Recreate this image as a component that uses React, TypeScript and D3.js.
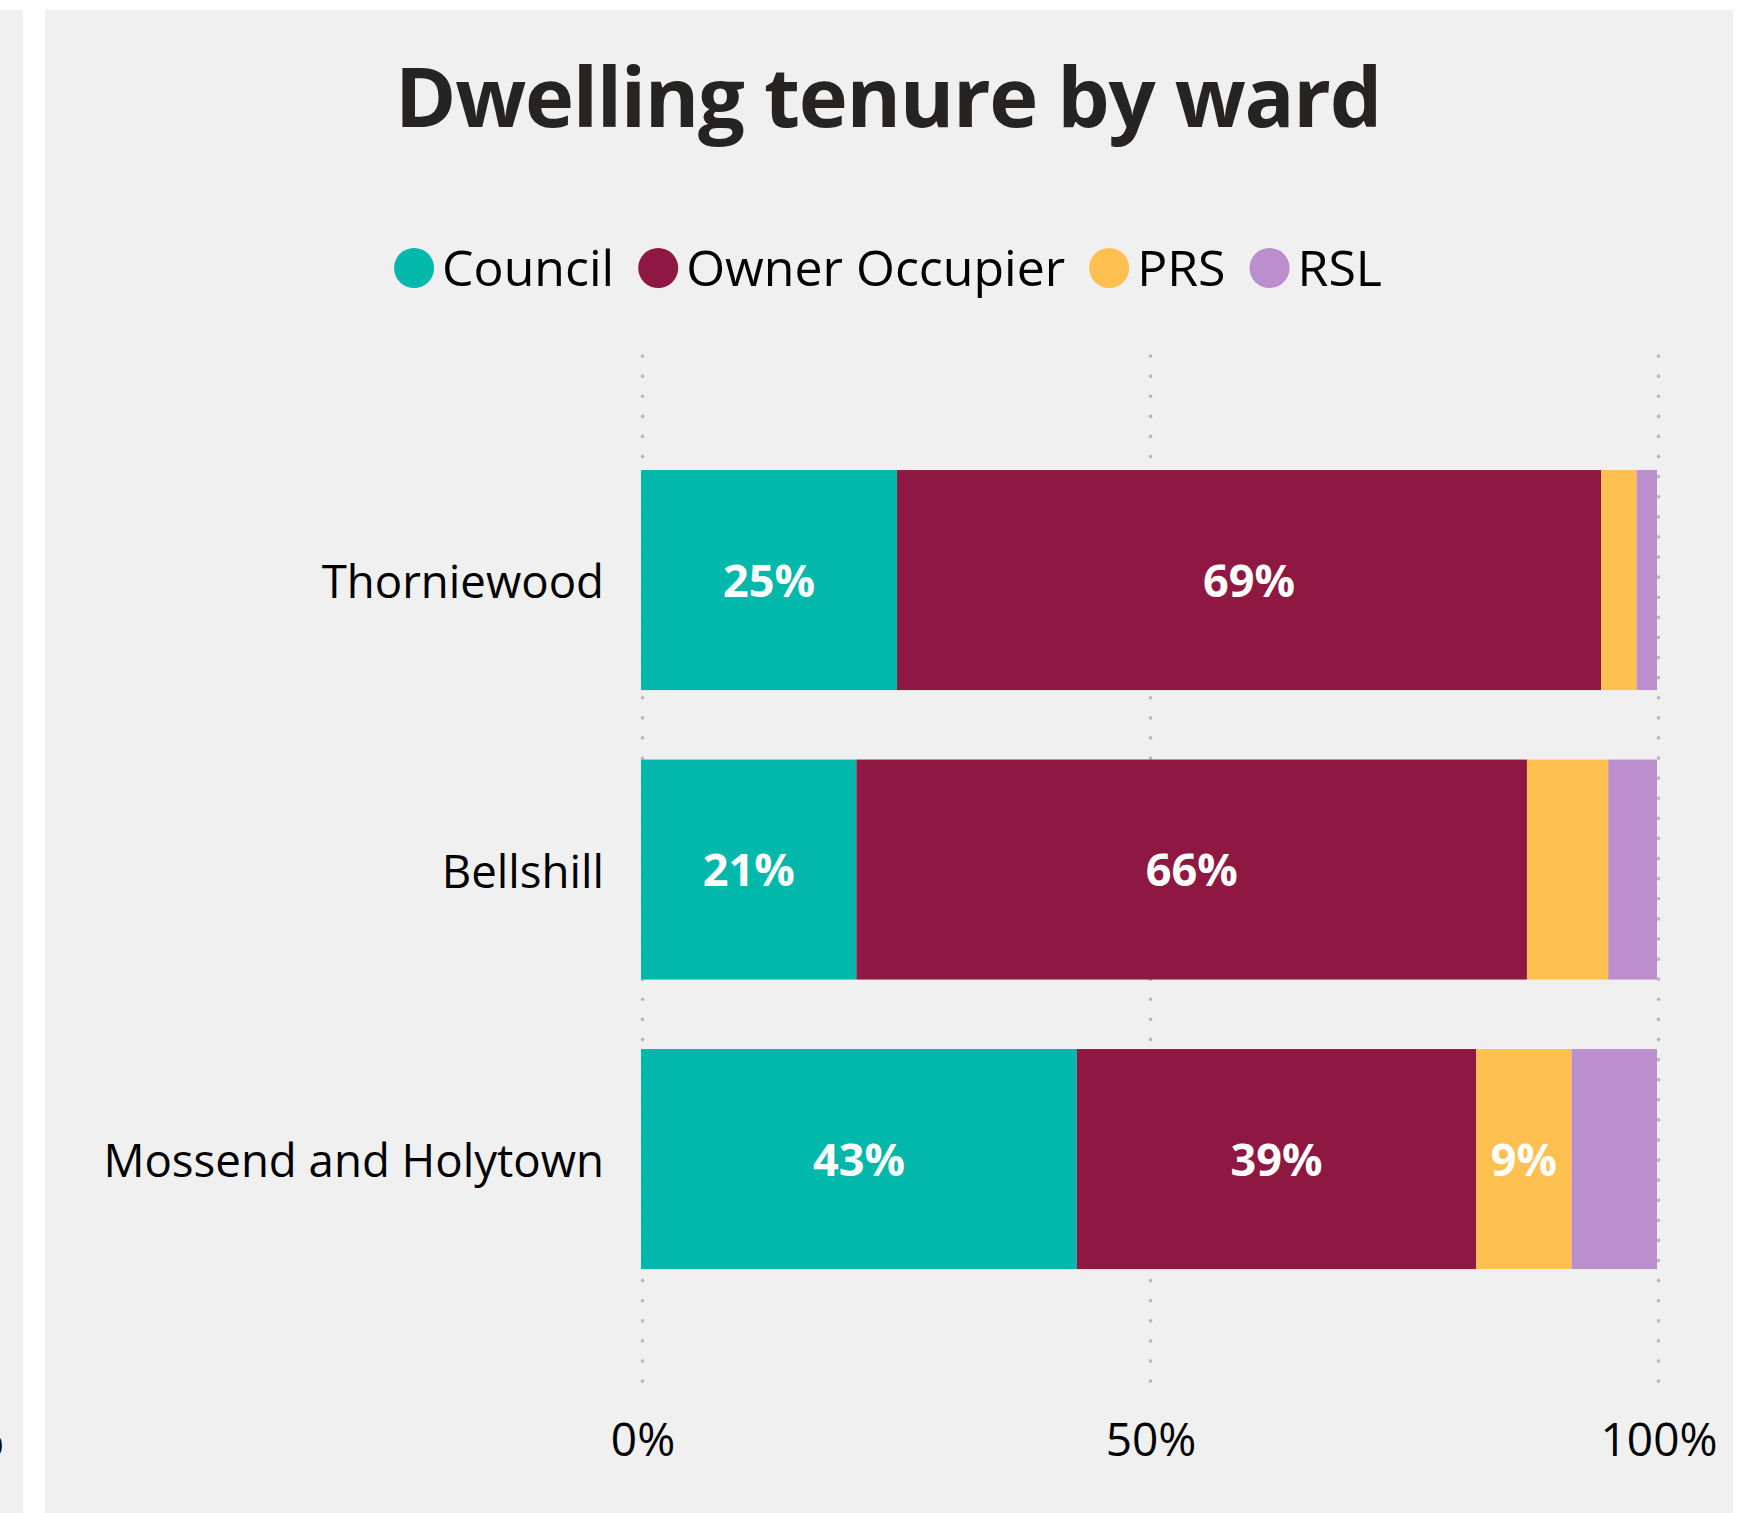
import * as d3 from 'd3';
import React, { useRef, useEffect } from 'react';

// Chart data
const wards = ['Thorniewood', 'Bellshill', 'Mossend and Holytown'];
const tenures = ['Council', 'Owner Occupier', 'PRS', 'RSL'];
const council = [0.252, 0.212, 0.429];
const ownerOccupier = [0.693, 0.66, 0.393];
const prs = [0.035, 0.08, 0.094];
const rsl = [0.02, 0.048, 0.084];
const xTicks = [0, 0.5, 1];
const tenureColors = ['#01B8AA', '#8F1842', '#FEC050', '#BB8ECE'];

const W = 1747;
const H = 1513;
const FONT = "'Segoe UI', 'Open Sans', 'Noto Sans', sans-serif";

const App: React.FC = () => {
  const svgRef = useRef<SVGSVGElement | null>(null);

  useEffect(() => {
    const svg = d3.select(svgRef.current).attr('width', W).attr('height', H);
    svg.selectAll('*').remove();

    // page + panels
    svg.append('rect').attr('width', W).attr('height', H).attr('fill', '#ffffff');
    svg.append('rect').attr('x', 0).attr('y', 10).attr('width', 23).attr('height', H - 10).attr('fill', '#f0f0f0');
    // sliver of the neighbouring visual's axis label
    svg.append('text')
      .attr('x', 4).attr('y', 1456)
      .attr('text-anchor', 'end')
      .attr('font-family', FONT).attr('font-size', 46).attr('fill', '#000')
      .text('%');
    svg.append('rect').attr('x', 45).attr('y', 10).attr('width', 1733 - 45).attr('height', H - 10).attr('fill', '#f0f0f0');

    // title
    svg.append('text')
      .attr('x', 888).attr('y', 127)
      .attr('text-anchor', 'middle')
      .attr('font-family', FONT).attr('font-weight', 700).attr('font-size', 83)
      .attr('letter-spacing', -1.3)
      .attr('fill', '#252423')
      .text('Dwelling tenure by ward');

    // legend, centred
    const legend = svg.append('g');
    const r = 20;
    let cursor = 0;
    tenures.forEach((t, i) => {
      const item = legend.append('g').attr('transform', `translate(${cursor},0)`);
      item.append('circle').attr('cx', r).attr('cy', 268).attr('r', r).attr('fill', tenureColors[i]);
      const txt = item.append('text')
        .attr('x', 2 * r + 8).attr('y', 286)
        .attr('font-family', FONT).attr('font-size', 50).attr('fill', '#000')
        .text(t);
      const w = (txt.node() as SVGTextElement).getComputedTextLength();
      cursor += 2 * r + 8 + w + 24;
    });
    const legendWidth = cursor - 24;
    legend.attr('transform', `translate(${888 - legendWidth / 2},0)`);

    // scales
    const x = d3.scaleLinear().domain([0, 1]).range([641, 1657]);
    const y = d3.scaleBand<string>()
      .domain(wards)
      .range([435.3, 1303.8])
      .paddingInner(0.24)
      .paddingOuter(0.12);

    // dotted gridlines
    svg.append('g')
      .selectAll('line')
      .data(xTicks)
      .join('line')
      .attr('x1', (d) => x(d) + 1.5)
      .attr('x2', (d) => x(d) + 1.5)
      .attr('y1', 356)
      .attr('y2', 1398)
      .attr('stroke', '#b8b8b8')
      .attr('stroke-width', 3.6)
      .attr('stroke-linecap', 'round')
      .attr('stroke-dasharray', '0.1 20');

    // x tick labels
    svg.append('g')
      .selectAll('text')
      .data(xTicks)
      .join('text')
      .attr('x', (d) => x(d) + 2)
      .attr('y', 1456)
      .attr('text-anchor', 'middle')
      .attr('font-family', FONT).attr('font-size', 46).attr('fill', '#000')
      .text((d) => d3.format('.0%')(d));

    // category labels
    svg.append('g')
      .selectAll('text')
      .data(wards)
      .join('text')
      .attr('x', 604)
      .attr('y', (d) => (y(d) as number) + y.bandwidth() / 2)
      .attr('dy', '0.4em')
      .attr('text-anchor', 'end')
      .attr('font-family', FONT).attr('font-size', 45.6).attr('fill', '#000')
      .text((d) => d);

    // stacked bars
    const rows = wards.map((ward, i) => ({
      ward,
      Council: council[i],
      'Owner Occupier': ownerOccupier[i],
      PRS: prs[i],
      RSL: rsl[i],
    }));
    const stacked = d3.stack<any>().keys(tenures)(rows);

    stacked.forEach((layer, k) => {
      const g = svg.append('g');
      g.selectAll('rect')
        .data(layer)
        .join('rect')
        .attr('x', (d) => x(d[0]))
        .attr('y', (d) => y(d.data.ward) as number)
        .attr('width', (d) => x(d[1]) - x(d[0]))
        .attr('height', y.bandwidth())
        .attr('fill', tenureColors[k]);

      // labels only where the segment is wide enough
      g.selectAll('text')
        .data(layer.filter((d) => x(d[1]) - x(d[0]) > 90))
        .join('text')
        .attr('x', (d) => (x(d[0]) + x(d[1])) / 2)
        .attr('y', (d) => (y(d.data.ward) as number) + y.bandwidth() / 2)
        .attr('dy', '0.37em')
        .attr('text-anchor', 'middle')
        .attr('font-family', FONT).attr('font-weight', 700).attr('font-size', 45)
        .attr('fill', '#ffffff')
        .text((d) => d3.format('.0%')(d[1] - d[0]));
    });
  }, []);

  return (
    <div style={{ position: 'absolute', left: 0, top: 0 }}>
      <svg ref={svgRef} style={{ display: 'block' }}></svg>
    </div>
  );
};

export default App;
